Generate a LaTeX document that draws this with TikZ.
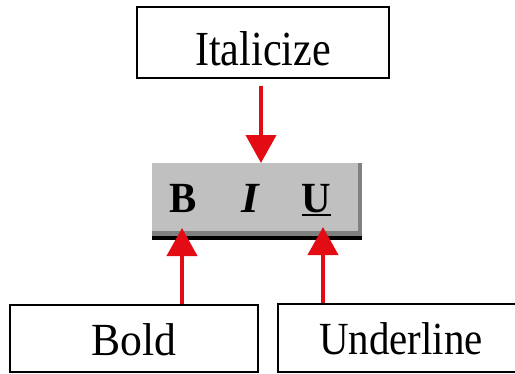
\documentclass[tikz,border=0pt]{standalone}
\usepackage{fontspec}
\setmainfont{Liberation Serif}
\usetikzlibrary{arrows.meta}
\definecolor{barface}{RGB}{192,192,192}
\definecolor{barshade}{RGB}{128,128,128}
\definecolor{arrowred}{RGB}{228,12,20}
\tikzset{
  labelbox/.style={draw=black, line width=1.3pt, rectangle, inner sep=0pt, fill=white},
  bigtext/.style={font=\fontsize{46}{46}\selectfont},
  pointer/.style={draw=arrowred, line width=4pt, -{Triangle[width=30pt,length=28pt]}},
  glyph/.style={inner sep=0pt, font=\fontsize{43}{43}\selectfont\bfseries, text height=29pt, text depth=0pt}
}
\begin{document}
\begin{tikzpicture}[x=1pt, y=-1pt]
\useasboundingbox (0,0) rectangle (515,373);
\clip (0,0) rectangle (515,373);
\fill[white] (0,0) rectangle (515,373);

% toolbar strip with its 3D edges
\node[rectangle, fill=barface, minimum width=210pt, minimum height=77pt, inner sep=0pt] (bar) at (257,201.5) {};
\fill[barshade] ([xshift=-4pt]bar.north east) rectangle ([yshift=4pt]bar.south east);
\fill[barshade] ([yshift=9pt]bar.south west) rectangle ([yshift=4pt]bar.south east);
\fill[black] ([yshift=4pt]bar.south west) rectangle (bar.south east);

% formatting buttons
\node[glyph] (bsym) at (183.5,197.5) {\scalebox{0.95}[1]{B}};
\node[glyph] (isym) at (250,197.5) {\scalebox{1.05}[1]{\itshape I}};
\node[glyph] (usym) at (316.5,197.5) {\scalebox{0.95}[1]{U}};
\fill[black] ([yshift=-1.5pt]usym.south west) rectangle ([yshift=-4pt]usym.south east);

% caption boxes
\node[labelbox, minimum width=252pt, minimum height=71pt, text height=45pt, text depth=0pt,
      font=\fontsize{49}{49}\selectfont] (italic) at (263,42.5) {\scalebox{0.86}[1]{Italicize}};
\node[labelbox, bigtext, minimum width=248pt, minimum height=67pt, text height=33pt, text depth=0pt] (bold) at (134,338.5) {\scalebox{0.95}[1]{Bold}};
\node[labelbox, bigtext, minimum width=246pt, minimum height=68pt, text height=32pt, text depth=0pt] (under) at (401,338) {\scalebox{0.89}[1]{Underline}};

% arrow tips on the toolbar
\coordinate (tipI) at (261,163);
\coordinate (tipB) at (182,228);
\coordinate (tipU) at (323,227);

\draw[pointer, shorten <=7pt] (italic.south -| tipI) -- (tipI);
\draw[pointer] (bold.north -| tipB) -- (tipB);
\draw[pointer] (under.north -| tipU) -- (tipU);
\end{tikzpicture}
\end{document}
